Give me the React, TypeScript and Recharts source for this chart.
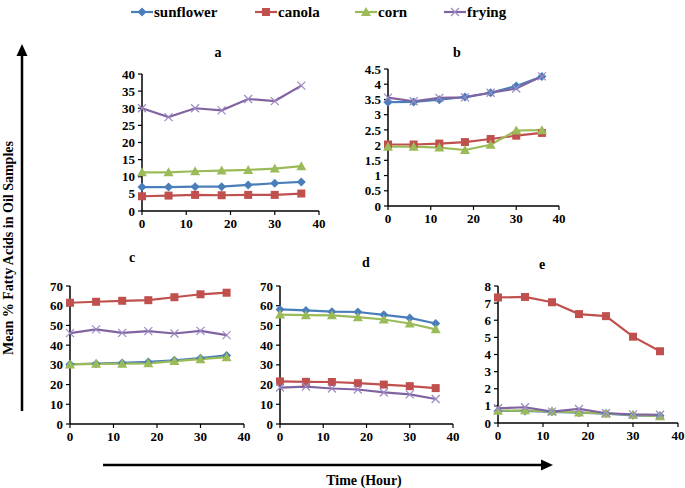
import React from 'react';
import { LineChart, Line, XAxis, YAxis } from 'recharts';

// hours sampled
const hours = [0, 6, 12, 18, 24, 30, 36];
const xTicks = [0, 10, 20, 30, 40];

// panel a
const sunflowerA = [7.0, 7.0, 7.1, 7.1, 7.6, 8.1, 8.5];
const canolaA = [4.3, 4.5, 4.7, 4.6, 4.7, 4.7, 5.1];
const cornA = [11.3, 11.3, 11.6, 11.8, 12.0, 12.4, 13.1];
const fryingA = [30.0, 27.4, 30.0, 29.4, 32.7, 32.1, 36.6];
const yTicksA = [0, 5, 10, 15, 20, 25, 30, 35, 40];

// panel b
const sunflowerB = [3.41, 3.42, 3.49, 3.58, 3.72, 3.94, 4.25];
const canolaB = [2.02, 2.02, 2.05, 2.1, 2.2, 2.31, 2.4];
const cornB = [1.95, 1.95, 1.92, 1.84, 2.01, 2.48, 2.49];
const fryingB = [3.56, 3.44, 3.55, 3.57, 3.72, 3.86, 4.26];
const yTicksB = [0, 0.5, 1, 1.5, 2, 2.5, 3, 3.5, 4, 4.5];

// panel c
const sunflowerC = [30.3, 30.6, 31.0, 31.5, 32.3, 33.4, 34.8];
const canolaC = [61.5, 62.0, 62.5, 62.8, 64.3, 65.8, 66.6];
const cornC = [30.2, 30.5, 30.6, 30.8, 31.9, 32.9, 33.9];
const fryingC = [46.1, 48.0, 46.2, 47.1, 45.9, 47.2, 45.1];
const yTicksC = [0, 10, 20, 30, 40, 50, 60, 70];

// panel d
const sunflowerD = [58.1, 57.6, 57.0, 56.8, 55.4, 53.8, 51.0];
const canolaD = [21.6, 21.4, 21.3, 20.7, 20.0, 19.2, 18.2];
const cornD = [55.5, 55.2, 55.1, 54.2, 53.0, 51.0, 48.0];
const fryingD = [18.5, 19.0, 18.0, 17.5, 16.0, 15.0, 12.7];
const yTicksD = [0, 10, 20, 30, 40, 50, 60, 70];

// panel e
const sunflowerE = [0.7, 0.7, 0.65, 0.6, 0.55, 0.45, 0.42];
const canolaE = [7.33, 7.36, 7.05, 6.36, 6.24, 5.04, 4.19];
const cornE = [0.72, 0.74, 0.68, 0.62, 0.56, 0.48, 0.4];
const fryingE = [0.86, 0.92, 0.66, 0.82, 0.57, 0.5, 0.48];
const yTicksE = [0, 1, 2, 3, 4, 5, 6, 7, 8];

const SERIES = [
  { key: 'sunflower', color: '#4a7ebb', shape: 'diamond' },
  { key: 'canola', color: '#c0504d', shape: 'square' },
  { key: 'corn', color: '#9bbb59', shape: 'triangle' },
  { key: 'frying', color: '#8064a2', shape: 'x' },
];

const FONT = '"Liberation Serif", "Times New Roman", serif';

const build = (s: number[], c: number[], co: number[], f: number[]) =>
  hours.map((h, i) => ({ hour: h, sunflower: s[i], canola: c[i], corn: co[i], frying: f[i] }));

const Marker = ({ shape, color, cx, cy }: any) => {
  if (cx == null || cy == null) return null;
  if (shape === 'diamond')
    return <polygon points={`${cx},${cy - 4.5} ${cx + 4.5},${cy} ${cx},${cy + 4.5} ${cx - 4.5},${cy}`} fill={color} />;
  if (shape === 'square')
    return <rect x={cx - 4} y={cy - 4} width={8} height={8} fill={color} />;
  if (shape === 'triangle')
    return <polygon points={`${cx},${cy - 5} ${cx + 5},${cy + 4} ${cx - 5},${cy + 4}`} fill={color} />;
  return (
    <g stroke="#9d89c4" strokeWidth={1.2}>
      <line x1={cx - 4} y1={cy - 4} x2={cx + 4} y2={cy + 4} />
      <line x1={cx - 4} y1={cy + 4} x2={cx + 4} y2={cy - 4} />
    </g>
  );
};

const tickStyle = { fill: '#000', fontSize: 13, fontWeight: 700, fontFamily: FONT };

type PanelProps = {
  data: any[];
  yTicks: number[];
  x0: number;
  x1: number;
  y0: number;
  y1: number;
};

const Panel = ({ data, yTicks, x0, x1, y0, y1 }: PanelProps) => {
  const yw = 40;
  const W = x1 - x0 + yw + 14;
  const H = y1 - y0 + 8 + 26;
  return (
    <div style={{ position: 'absolute', left: x0 - yw, top: y0 - 8 }}>
      <LineChart width={W} height={H} data={data} margin={{ top: 8, right: 14, left: 0, bottom: 0 }}>
        <XAxis
          dataKey="hour"
          type="number"
          domain={[0, 40]}
          ticks={xTicks}
          interval={0}
          height={26}
          tickSize={4}
          tickMargin={4}
          axisLine={{ stroke: '#000', strokeWidth: 1.5 }}
          tickLine={{ stroke: '#000', strokeWidth: 1.2 }}
          tick={tickStyle}
        />
        <YAxis
          type="number"
          domain={[yTicks[0], yTicks[yTicks.length - 1]]}
          ticks={yTicks}
          interval={0}
          width={yw}
          tickSize={4}
          tickMargin={3}
          axisLine={{ stroke: '#000', strokeWidth: 1.5 }}
          tickLine={{ stroke: '#000', strokeWidth: 1.2 }}
          tick={tickStyle}
        />
        {SERIES.map((s) => (
          <Line
            key={s.key}
            dataKey={s.key}
            stroke={s.color}
            strokeWidth={2.2}
            isAnimationActive={false}
            dot={(p: any) => <Marker key={`${s.key}-${p.index}`} shape={s.shape} color={s.color} cx={p.cx} cy={p.cy} />}
            activeDot={false}
          />
        ))}
      </LineChart>
    </div>
  );
};

const Title = ({ text, x, y }: { text: string; x: number; y: number }) => (
  <div
    style={{
      position: 'absolute',
      left: x,
      top: y,
      transform: 'translate(-50%, -50%)',
      fontFamily: FONT,
      fontWeight: 700,
      fontSize: 14,
    }}
  >
    {text}
  </div>
);

const LegendItem = ({ s, x }: { s: (typeof SERIES)[number]; x: number }) => (
  <div style={{ position: 'absolute', left: x, top: 2, display: 'flex', alignItems: 'center' }}>
    <svg width={22} height={20}>
      <line x1={0} y1={10} x2={22} y2={10} stroke={s.color} strokeWidth={2.2} />
      <Marker shape={s.shape} color={s.color} cx={11} cy={10} />
    </svg>
    <span style={{ fontFamily: FONT, fontWeight: 700, fontSize: 15, marginLeft: 1 }}>{s.key}</span>
  </div>
);

export default function App() {
  return (
    <div style={{ position: 'absolute', left: 0, top: 0, width: 685, height: 488, background: '#fff', overflow: 'hidden' }}>
      {SERIES.map((s, i) => (
        <LegendItem key={s.key} s={s} x={[131, 255, 355, 444][i]} />
      ))}

      <Panel data={build(sunflowerA, canolaA, cornA, fryingA)} yTicks={yTicksA} x0={142} x1={319} y0={74} y1={211} />
      <Panel data={build(sunflowerB, canolaB, cornB, fryingB)} yTicks={yTicksB} x0={388} x1={559} y0={69} y1={206} />
      <Panel data={build(sunflowerC, canolaC, cornC, fryingC)} yTicks={yTicksC} x0={70} x1={244} y0={286} y1={424} />
      <Panel data={build(sunflowerD, canolaD, cornD, fryingD)} yTicks={yTicksD} x0={280} x1={453} y0={286} y1={424} />
      <Panel data={build(sunflowerE, canolaE, cornE, fryingE)} yTicks={yTicksE} x0={498} x1={678} y0={286} y1={423} />

      <Title text="a" x={218} y={53} />
      <Title text="b" x={457} y={53} />
      <Title text="c" x={132} y={258} />
      <Title text="d" x={366} y={263} />
      <Title text="e" x={542} y={265} />

      <svg width={685} height={488} style={{ position: 'absolute', left: 0, top: 0, pointerEvents: 'none' }}>
        <line x1={22} y1={411} x2={22} y2={52} stroke="#000" strokeWidth={2.5} />
        <polygon points="22,44 16.5,56 27.5,56" fill="#000" />
        <line x1={103} y1={465} x2={544} y2={465} stroke="#000" strokeWidth={2.5} />
        <polygon points="553,465 541,459.5 541,470.5" fill="#000" />
      </svg>

      <div
        style={{
          position: 'absolute',
          left: 9,
          top: 248,
          transform: 'translate(-50%, -50%) rotate(-90deg)',
          whiteSpace: 'nowrap',
          fontFamily: FONT,
          fontWeight: 700,
          fontSize: 14,
        }}
      >
        Mean % Fatty Acids in Oil Samples
      </div>
      <div
        style={{
          position: 'absolute',
          left: 364,
          top: 481,
          transform: 'translate(-50%, -50%)',
          whiteSpace: 'nowrap',
          fontFamily: FONT,
          fontWeight: 700,
          fontSize: 14,
        }}
      >
        Time (Hour)
      </div>
    </div>
  );
}
